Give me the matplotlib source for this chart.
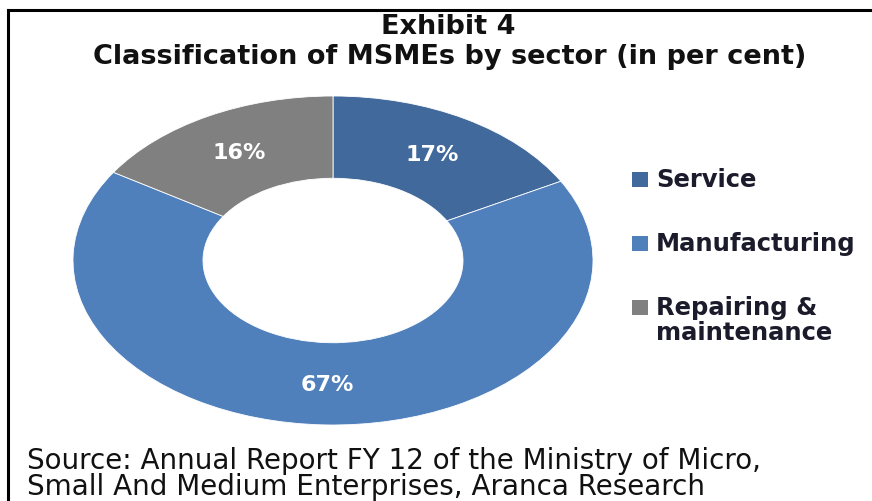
import matplotlib.pyplot as plt
from matplotlib.lines import Line2D
from matplotlib.patches import Rectangle

sectors = ['Service', 'Manufacturing', 'Repairing &\nmaintenance']
shares = [17, 67, 16]
colors = ['#41699b', '#4f80bc', '#808080']

fig = plt.figure(figsize=(8.72, 5.02), dpi=100)

# donut axes placed by pixel box (stretched horizontally like the original)
ax = fig.add_axes([73/872, 76/502, 520/872, 329/502])
wedges, texts, autotexts = ax.pie(
    shares, colors=colors, startangle=90, counterclock=False,
    autopct='%d%%', pctdistance=0.75,
    wedgeprops=dict(width=0.5, edgecolor='white', linewidth=0.6),
    textprops=dict(color='white', fontsize=16, fontweight='bold'))
ax.set_aspect('auto')
ax.set_xlim(-1, 1)
ax.set_ylim(-1, 1)

fig.text(448/872, 1 - 27/502, 'Exhibit 4', ha='center', va='center',
         fontsize=19.5, fontweight='bold', color='#111111')
fig.text(450/872, 1 - 57/502, 'Classification of MSMEs by sector (in per cent)',
         ha='center', va='center', fontsize=19.5, fontweight='bold', color='#111111')

# legend: square lines up with the first line of each label
leg_y = [180, 244, 308]
for w, name, y in zip(wedges, sectors, leg_y):
    fig.add_artist(Rectangle((632/872, 1 - (y + 8)/502), 16/872, 15/502,
                             facecolor=w.get_facecolor(), transform=fig.transFigure))
    fig.text(656/872, 1 - (y - 12)/502, name, ha='left', va='top', fontsize=17.5,
             fontweight='bold', color='#1b1b2b', linespacing=1.05)

fig.text(27/872, 1 - 461/502, 'Source: Annual Report FY 12 of the Ministry of Micro,',
         ha='left', va='center', fontsize=20, color='#111111')
fig.text(27/872, 1 - 487/502, 'Small And Medium Enterprises, Aranca Research',
         ha='left', va='center', fontsize=20, color='#111111')

# frame lines (top and left only visible)
fig.add_artist(Line2D([8/872, 1], [1 - 11/502, 1 - 11/502], color='black', lw=2.2,
                      transform=fig.transFigure))
fig.add_artist(Line2D([8/872, 8/872], [0, 1 - 11/502], color='black', lw=2.2,
                      transform=fig.transFigure))

fig.savefig('out.png', dpi=100)
